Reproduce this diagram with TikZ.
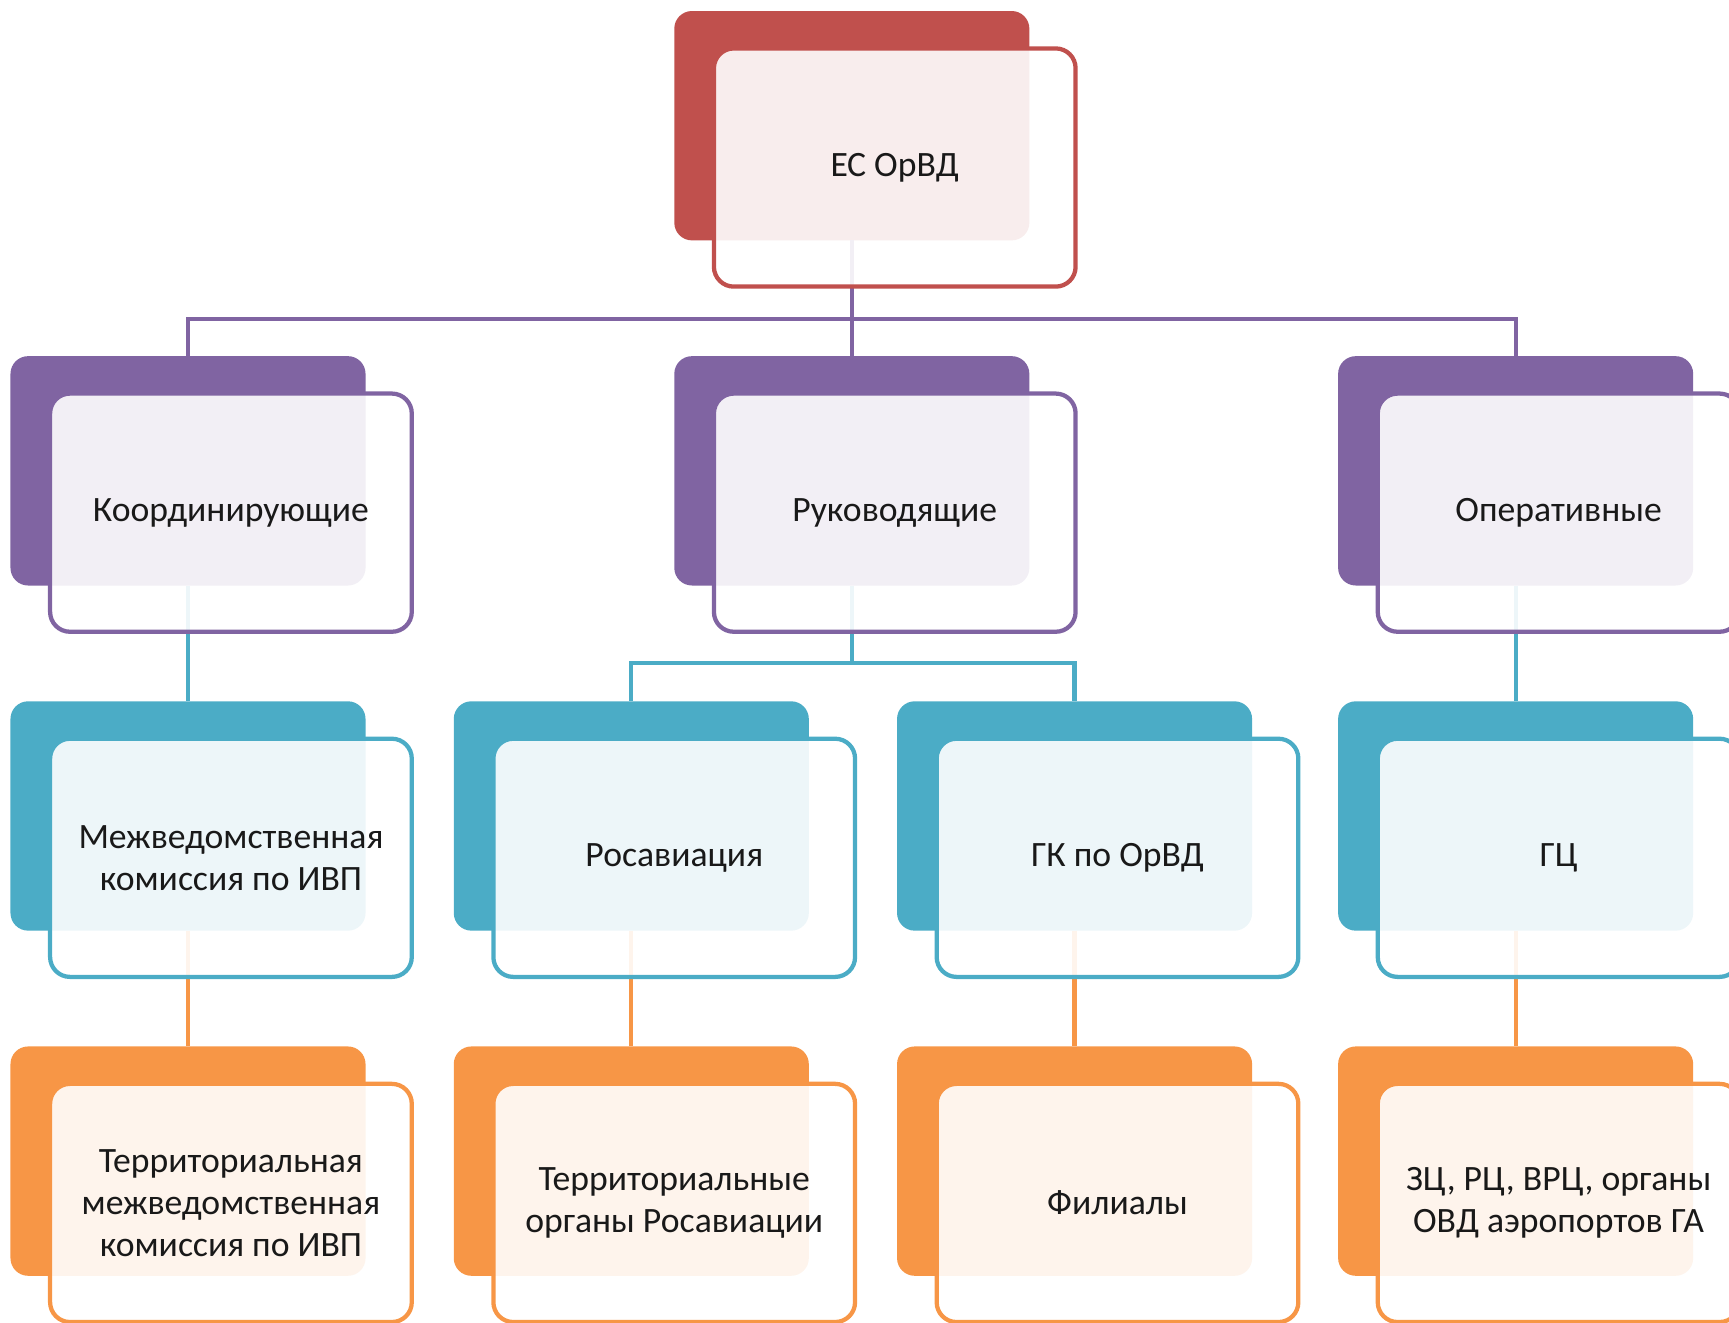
\documentclass[tikz,border=0pt]{standalone}
\usepackage{fontspec}
\setmainfont{Carlito}
\usetikzlibrary{positioning, calc}

\definecolor{ecred}{HTML}{C0504D}
\definecolor{lvpurple}{HTML}{8064A2}
\definecolor{lvblue}{HTML}{4BACC6}
\definecolor{lvorange}{HTML}{F79646}

\begin{document}
\begin{tikzpicture}[
  node distance=10.5mm and 8mm, line width=1.1pt,
  backbox/.style={rectangle,rounded corners=1.6mm,fill=#1,outer sep=0pt,
    minimum width=32.2mm,minimum height=20.8mm,inner sep=0pt},
  frontbox/.style={rectangle,rounded corners=1.8mm,draw=#1,fill=white,
    fill opacity=0.9,text opacity=1,minimum width=32.8mm,minimum height=21.6mm,
    inner sep=2pt,align=center,anchor=north west,text=black!90,
    font=\fontsize{9.2}{10.8}\selectfont},
  link/.style={draw=#1,line width=1.1pt}
]
\useasboundingbox (0,0) rectangle (156.8mm,-119.9mm);

% --- Back plates ---
\node[backbox=ecred] (ecb) at (77.25mm,-11.4mm) {};
\node[backbox=lvpurple,below=of ecb]      (rukb) {};
\node[backbox=lvpurple,left=28mm of rukb] (koordb) {};
\node[backbox=lvpurple,right=28mm of rukb] (operb) {};
\node[backbox=lvblue,below=of koordb]  (mkb) {};
\node[backbox=lvblue,right=of mkb]     (rosb) {};
\node[backbox=lvblue,right=of rosb]    (gkb) {};
\node[backbox=lvblue,below=of operb]   (gcb) {};
\node[backbox=lvorange,below=of mkb]   (tmkb) {};
\node[backbox=lvorange,below=of rosb]  (torgb) {};
\node[backbox=lvorange,below=of gkb]   (filb) {};
\node[backbox=lvorange,below=of gcb]   (zcb) {};

% --- Connectors ---
\path[link=lvpurple]
  (ecb.south) -- ++(0,-7.1mm) -| (koordb.north)
  (ecb.south) -- (rukb.north)
  (ecb.south) -- ++(0,-7.1mm) -| (operb.north);
\path[link=lvblue]
  (koordb.south) -- (mkb.north)
  (rukb.south) -- ++(0,-7mm) -| (rosb.north)
  (rukb.south) -- ++(0,-7mm) -| (gkb.north)
  (operb.south) -- (gcb.north);
\path[link=lvorange]
  (mkb.south) -- (tmkb.north)
  (rosb.south) -- (torgb.north)
  (gkb.south) -- (filb.north)
  (gcb.south) -- (zcb.north);

% --- Front cards with texts ---
\node[frontbox=ecred] (ec) at ([shift={(3.4mm,-3.2mm)}]ecb.north west) {ЕС ОрВД};
\node[frontbox=lvpurple] (koord) at ([shift={(3.4mm,-3.2mm)}]koordb.north west) {Координирующие};
\node[frontbox=lvpurple] (ruk) at ([shift={(3.4mm,-3.2mm)}]rukb.north west) {Руководящие};
\node[frontbox=lvpurple] (oper) at ([shift={(3.4mm,-3.2mm)}]operb.north west) {Оперативные};
\node[frontbox=lvblue] (mk) at ([shift={(3.4mm,-3.2mm)}]mkb.north west) {Межведомственная\\комиссия по ИВП};
\node[frontbox=lvblue] (ros) at ([shift={(3.4mm,-3.2mm)}]rosb.north west) {Росавиация};
\node[frontbox=lvblue] (gk) at ([shift={(3.4mm,-3.2mm)}]gkb.north west) {ГК по ОрВД};
\node[frontbox=lvblue] (gc) at ([shift={(3.4mm,-3.2mm)}]gcb.north west) {ГЦ};
\node[frontbox=lvorange] (tmk) at ([shift={(3.4mm,-3.2mm)}]tmkb.north west) {Территориальная\\межведомственная\\комиссия по ИВП};
\node[frontbox=lvorange] (torg) at ([shift={(3.4mm,-3.2mm)}]torgb.north west) {Территориальные\\органы Росавиации};
\node[frontbox=lvorange] (fil) at ([shift={(3.4mm,-3.2mm)}]filb.north west) {Филиалы};
\node[frontbox=lvorange] (zc) at ([shift={(3.4mm,-3.2mm)}]zcb.north west) {ЗЦ, РЦ, ВРЦ, органы\\ОВД аэропортов ГА};

\end{tikzpicture}
\end{document}
